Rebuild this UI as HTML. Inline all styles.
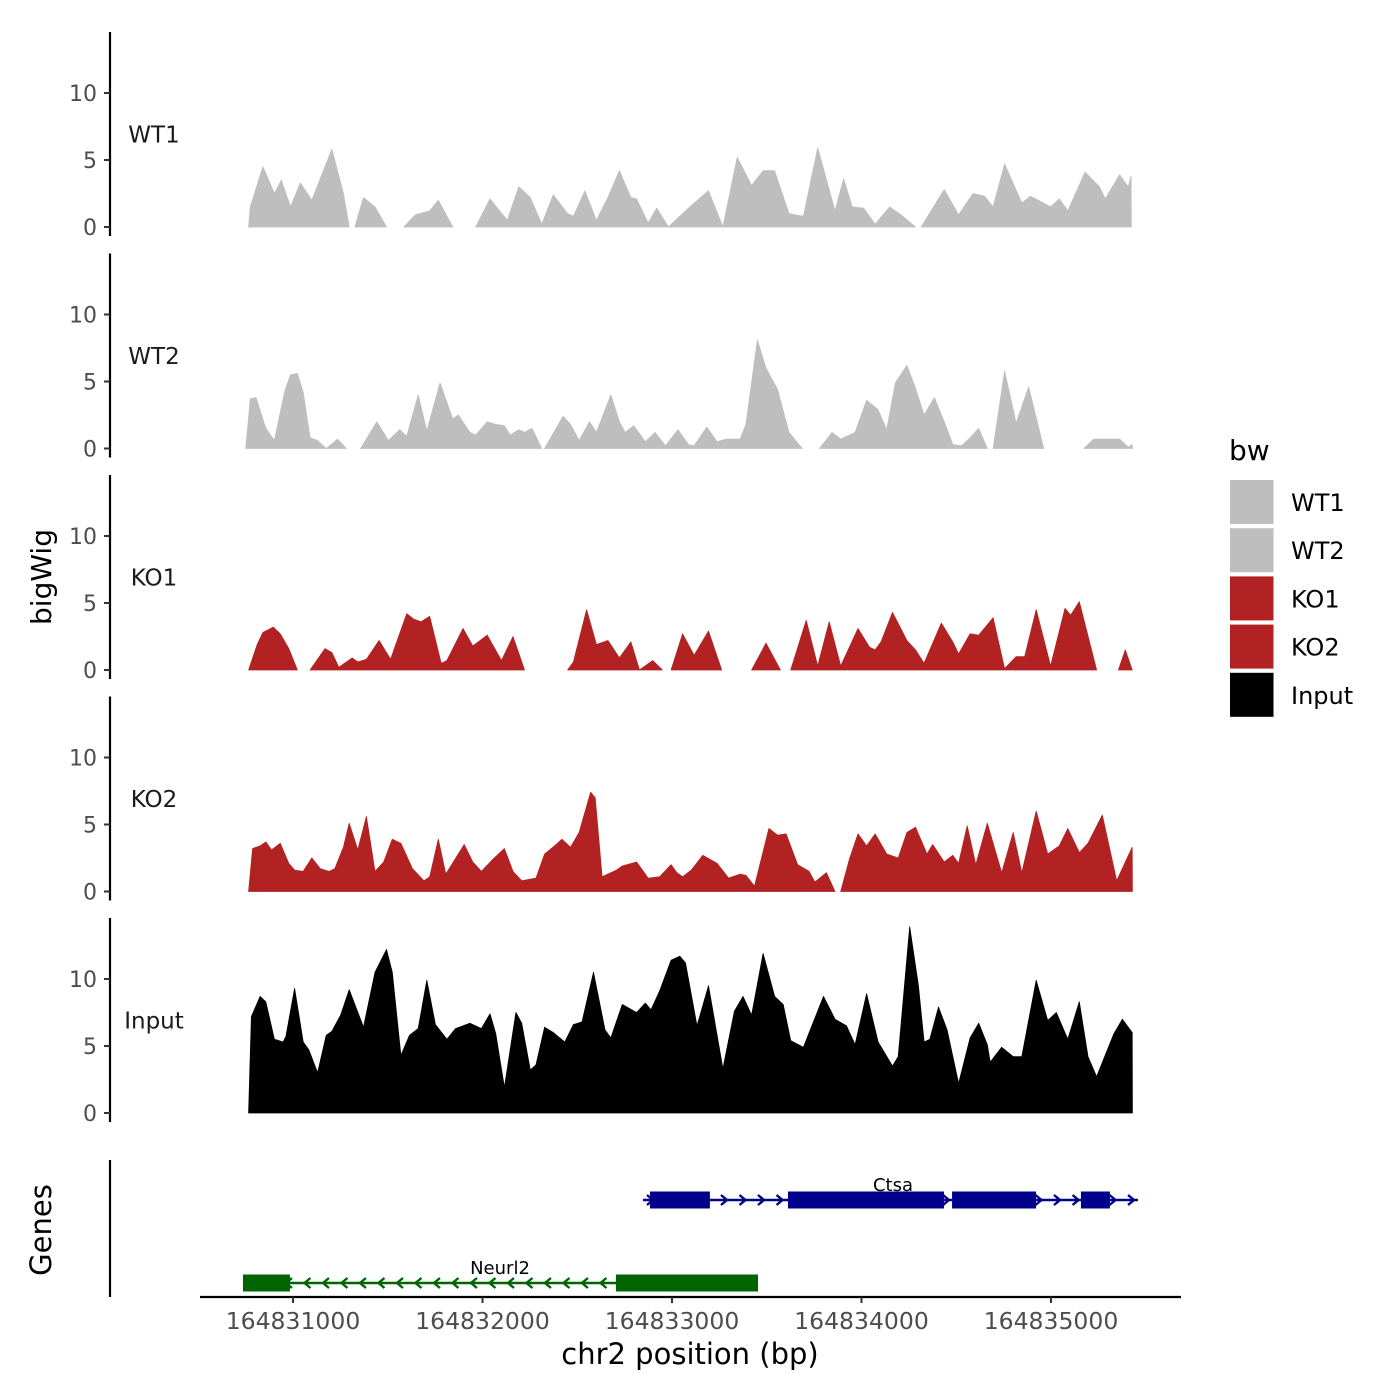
<!DOCTYPE html>
<html><head><meta charset="utf-8"><style>
html,body{margin:0;padding:0;background:#fff;}
svg{display:block;font-family:"DejaVu Sans","Liberation Sans",sans-serif;}
</style></head><body>
<svg id="chart" width="1400" height="1400" viewBox="0 0 1400 1400" xmlns="http://www.w3.org/2000/svg">
<rect width="1400" height="1400" fill="#fff"/>
<g id="tracks"></g>
<g id="genes"></g>
<g id="axes"></g>
<text transform="translate(51,577) rotate(-90)" text-anchor="middle" font-size="28" fill="#000">bigWig</text>
<text transform="translate(51,1230) rotate(-90)" text-anchor="middle" font-size="29" fill="#000">Genes</text>
<text x="690" y="1364" text-anchor="middle" font-size="29" fill="#000">chr2 position (bp)</text>
<g>
<text x="1229" y="460" font-size="28" fill="#000">bw</text>
</g>
<g id="legend"></g>
</svg>
<script>
const REGION_START = 164830000;
const trackNames = ["WT1","WT2","KO1","KO2","Input"];
const trackColors = ["#bebebe","#bebebe","#b22222","#b22222","#000000"];
const yTicks = [0,5,10];
const xTicks = [164831000,164832000,164833000,164834000,164835000];

const wt1Pos = [765,774,840,900,936,984,1035,1095,1200,1260,1290,null,1320,1365,1425,1485,null,1575,1635,1710,1755,1830,null,1950,2025,2115,2175,2235,2295,2355,2430,2460,2520,2580,2640,2700,2760,2790,2850,2895,2955,3060,3165,3240,3315,3390,3450,3510,3585,3660,3735,3825,3870,3915,3975,4035,4110,4170,4245,null,4275,4395,4470,4545,4605,4650,4710,4800,4845,4950,4995,5040,5130,5205,5235,5310,5355,5370,5371];
const wt1Val = [0,1.5,4.5,2.5,3.5,1.5,3.3,2,5.8,2.5,0,null,0,2.2,1.5,0,null,0,0.9,1.2,2,0,null,0,2.1,0.5,3,2.2,0.2,2.4,1,0.8,2.7,0.5,2.2,4.2,2.2,2.1,0.3,1.4,0,1.4,2.7,0,5.2,3.1,4.2,4.2,1,0.8,5.9,1.2,3.6,1.5,1.4,0.2,1.5,0.9,0,null,0,2.8,0.9,2.5,2.3,1.5,4.7,1.8,2.3,1.5,2.1,1.2,4.1,3,2.1,3.9,3,3.8,0];

const wt2Pos = [750,774,804,855,900,954,984,1020,1050,1086,1125,1170,1230,1275,null,1350,1434,1494,1554,1590,1650,1695,1764,1830,1860,1920,1950,2010,2055,2100,2130,2175,2205,2244,2295,null,2310,2406,2445,2490,2544,2580,2655,2700,2730,2775,2835,2886,2940,3006,3060,3090,3156,3210,3255,3330,3360,3420,3465,3525,3585,3654,null,3744,3810,3855,3930,3990,4050,4095,4140,4200,4245,4290,4344,4395,4440,4485,4530,4575,4620,null,4650,4710,4770,4836,4914,null,5124,5175,5310,5355,5376,5377];
const wt2Val = [0,3.7,3.8,1.5,0.6,4.3,5.5,5.6,4.2,0.8,0.6,0,0.7,0,null,0,2,0.6,1.4,0.9,4,1.3,4.9,2.2,2.5,1.2,1,2,1.8,1.7,1,1.4,1.2,1.5,0,null,0,2.4,1.8,0.6,2,1.2,4,2,1.2,1.7,0.5,1.2,0.2,1.4,0.3,0.2,1.6,0.5,0.7,0.7,1.8,8.1,6,4.4,1.2,0,null,0,1.2,0.7,1.2,3.6,2.9,1.4,4.9,6.2,4.5,2.5,3.8,2,0.3,0.2,0.8,1.5,0,null,0,5.8,1.9,4.6,0,null,0,0.7,0.7,0.1,0.3,0];

const ko1Pos = [765,810,840,894,930,975,1020,null,1086,1164,1200,1236,1305,1335,1380,1446,1506,1590,1626,1665,1710,1770,1800,1884,1935,2010,2085,2145,2205,null,2430,2460,2529,2580,2640,2700,2760,2805,2874,2925,null,2970,3030,3090,3165,3234,null,3390,3465,3540,null,3594,3675,3735,3795,3855,3945,4005,4035,4065,4125,4200,4245,4290,4380,4440,4470,4530,4575,4650,4710,4770,4815,4875,4950,5025,5055,5100,5190,null,5304,5340,5376];
const ko1Val = [0,1.9,2.8,3.2,2.7,1.6,0,null,0,1.6,1.3,0.2,0.9,0.6,0.8,2.2,0.8,4.2,3.8,3.6,4,0.5,0.7,3.1,1.8,2.6,0.7,2.5,0,null,0,0.6,4.5,1.9,2.2,0.9,2.1,0,0.7,0,null,0,2.7,1.1,2.9,0,null,0,2,0,null,0,3.7,0.3,3.6,0.3,3.1,1.7,1.5,2.1,4.3,2.2,1.5,0.5,3.5,2.1,1.2,2.7,2.6,3.9,0.1,1,1,4.5,0.3,4.6,4.1,5.1,0,null,0,1.5,0];

const ko2Pos = [765,786,825,855,885,930,975,1005,1050,1095,1140,1185,1215,1260,1290,1335,1380,1425,1470,1515,1560,1620,1680,1710,1755,1794,1890,1935,1980,2040,2100,2145,2190,2265,2310,2370,2400,2445,2490,2550,2574,2610,2685,2715,2790,2850,2910,2970,3000,3030,3075,3135,3210,3270,3330,3360,3405,3480,3525,3570,3630,3690,3720,3780,3825,null,3855,3900,3945,3990,4035,4095,4155,4200,4245,4305,4335,4395,4440,4470,4515,4560,4620,4695,4755,4800,4875,4935,4995,5040,5100,5145,5220,5295,5340,5376,5377];
const ko2Val = [0,3.2,3.4,3.7,3.1,3.6,2.1,1.6,1.5,2.5,1.7,1.5,1.7,3.3,5.1,3.1,5.6,1.5,2.2,3.9,3.6,1.7,0.8,1.1,3.9,1.3,3.5,2.2,1.5,2.4,3.2,1.5,0.8,1,2.8,3.5,3.9,3.3,4.4,7.4,7,1.1,1.6,1.9,2.2,1,1.1,2,1.4,1.1,1.6,2.7,2.1,1,1.3,1.2,0.4,4.7,4.2,4.3,2,1.5,0.7,1.4,0,null,0,2.4,4.3,3.4,4.3,2.8,2.5,4.4,4.8,2.8,3.5,2.2,2.7,2.1,4.9,2,5.1,1.4,4.4,1.4,6,2.8,3.4,4.7,2.9,3.6,5.7,0.8,2.2,3.3,0];

const inputPos = [765,780,825,855,900,945,960,1005,1050,1080,1125,1170,1200,1245,1290,1365,1425,1485,1515,1560,1605,1650,1695,1740,1800,1845,1920,1980,2025,2055,2100,2160,2190,2235,2265,2310,2355,2415,2460,2505,2565,2625,2655,2715,2790,2835,2865,2910,2970,3015,3045,3105,3165,3240,3300,3345,3390,3450,3510,3555,3594,3660,3765,3825,3885,3930,3990,4050,4125,4155,4215,4260,4290,4320,4365,4410,4470,4530,4575,4620,4635,4695,4755,4800,4875,4935,4980,5040,5100,5145,5190,5280,5325,5376,5377];
const inputVal = [0,7.2,8.7,8.3,5.5,5.3,5.7,9.3,5.3,4.7,3,5.8,6.1,7.3,9.2,6.4,10.5,12.2,10.5,4.3,5.8,6.3,9.9,6.6,5.5,6.3,6.7,6.3,7.4,5.9,1.9,7.5,6.7,3.2,3.6,6.4,6,5.3,6.6,6.8,10.5,6.2,5.6,8.1,7.5,8.2,7.7,9.1,11.4,11.7,11.2,6.5,9.5,3.3,7.6,8.7,7.3,11.9,8.7,8.1,5.4,4.9,8.7,7,6.5,5.1,8.9,5.3,3.5,4.2,13.9,9.5,5.3,5.5,7.9,6.2,2.2,5.6,6.7,5.1,3.8,4.9,4.2,4.2,9.9,6.9,7.5,5.5,8.3,4.2,2.7,5.9,7,6,0];

const trackPos = [wt1Pos,wt2Pos,ko1Pos,ko2Pos,inputPos];
const trackVal = [wt1Val,wt2Val,ko1Val,ko2Val,inputVal];

const geneNames = ["Ctsa","Neurl2"];
const geneStart = [164832847,164830736];
const geneEnd = [164835459,164833454];
const geneStrand = ["+","-"];
const geneColors = ["#00008b","#006400"];
const geneExonStarts = [[164832884,164833612,164834478,164835158],[164830736,164832704]];
const geneExonEnds = [[164833200,164834435,164834921,164835311],[164830984,164833454]];

const NS="http://www.w3.org/2000/svg";
function mk(tag,attrs,parent){const e=document.createElementNS(NS,tag);for(const k in attrs)e.setAttribute(k,attrs[k]);parent.appendChild(e);return e;}
function xScale(bp){return 293+(bp-164831000)*0.1895;}
function yScale(k,v){return 227+221.5*k - v*13.4;}
// track positions were read relative to a 720bp anchor with a small (1.1%) scale calibration
function toBp(p){return REGION_START+720+(p-720)*1.0113;}
const tracksG=document.getElementById('tracks');
const axesG=document.getElementById('axes');
const genesG=document.getElementById('genes');

trackNames.forEach((name,k)=>{
  const pos=trackPos[k], val=trackVal[k];
  let segs=[],cur=[];
  for(let i=0;i<pos.length;i++){
    if(pos[i]===null){if(cur.length)segs.push(cur);cur=[];}
    else cur.push([toBp(pos[i]),val[i]]);
  }
  if(cur.length)segs.push(cur);
  segs.forEach(s=>{
    let d="M"+xScale(s[0][0]).toFixed(1)+","+yScale(k,0);
    s.forEach(p=>{d+=" L"+xScale(p[0]).toFixed(1)+","+yScale(k,p[1]).toFixed(1);});
    d+=" L"+xScale(s[s.length-1][0]).toFixed(1)+","+yScale(k,0)+" Z";
    const p=mk('path',{d:d,fill:trackColors[k],stroke:trackColors[k],'stroke-width':0.8,'stroke-linejoin':'round'},tracksG);
    
    
  });
  const top=yScale(k,0)-195, bot=yScale(k,0)+9;
  const ax=mk('line',{x1:110,x2:110,y1:top,y2:bot,stroke:'#000','stroke-width':2.2},axesG);
  
  
  yTicks.forEach(t=>{
    const y=yScale(k,t);
    const tl=mk('line',{x1:104,x2:110,y1:y,y2:y,stroke:'#333','stroke-width':2},axesG);
    
    
    const tx=mk('text',{x:97,y:y+8,'text-anchor':'end','font-size':22,fill:'#4d4d4d'},axesG);
    tx.textContent=t;
    
    
  });
  const lb=mk('text',{x:154,y:yScale(k,6.9)+8,'text-anchor':'middle','font-size':23,fill:'#1a1a1a'},axesG);
  lb.textContent=name;
  
  
});

const gax=mk('line',{x1:110,x2:110,y1:1160,y2:1297,stroke:'#000','stroke-width':2.2},axesG);


const xax=mk('line',{x1:200,x2:1181,y1:1297,y2:1297,stroke:'#000','stroke-width':2.2},axesG);


xTicks.forEach(t=>{
  const x=xScale(t);
  const tl=mk('line',{x1:x,x2:x,y1:1297,y2:1303,stroke:'#333','stroke-width':2},axesG);
  
  
  const tx=mk('text',{x:x,y:1329,'text-anchor':'middle','font-size':23.5,fill:'#4d4d4d'},axesG);
  tx.textContent=t;
  
  
});

const geneY=[1200,1283];
geneNames.forEach((g,i)=>{
  const y=geneY[i], c=geneColors[i];
  const x1=xScale(geneStart[i]), x2=xScale(geneEnd[i]);
  const ln=mk('line',{x1:x1,x2:x2,y1:y,y2:y,stroke:c,'stroke-width':2.5},genesG);
  
  
  for(let x=x1+8;x<x2-4;x+=18.5){
    const dir=geneStrand[i]==="+"?1:-1;
    const ch=mk('path',{d:`M${x-4*dir},${y-5} L${x+2*dir},${y} L${x-4*dir},${y+5}`,fill:'none',stroke:c,'stroke-width':2.4},genesG);
    
    
  }
  geneExonStarts[i].forEach((s,j)=>{
    const ex=mk('rect',{x:xScale(s),y:y-8.5,width:xScale(geneExonEnds[i][j])-xScale(s),height:17,fill:c},genesG);
    
    
  });
  const lab=mk('text',{x:i===0?893:500,y:y-9,'text-anchor':'middle','font-size':18,fill:'#000'},genesG);
  lab.textContent=g;
  
  
});

const legG=document.getElementById('legend');
const legColors=["#bebebe","#bebebe","#b22222","#b22222","#000000"];
trackNames.forEach((n,i)=>{
  const y=480+48.2*i;
  const r=mk('rect',{x:1230,y:y,width:43.5,height:44,fill:legColors[i]},legG);
  
  
  const t=mk('text',{x:1291,y:y+31,'font-size':24,fill:'#000'},legG);
  t.textContent=n;
  
  
});
</script>
</body></html>
